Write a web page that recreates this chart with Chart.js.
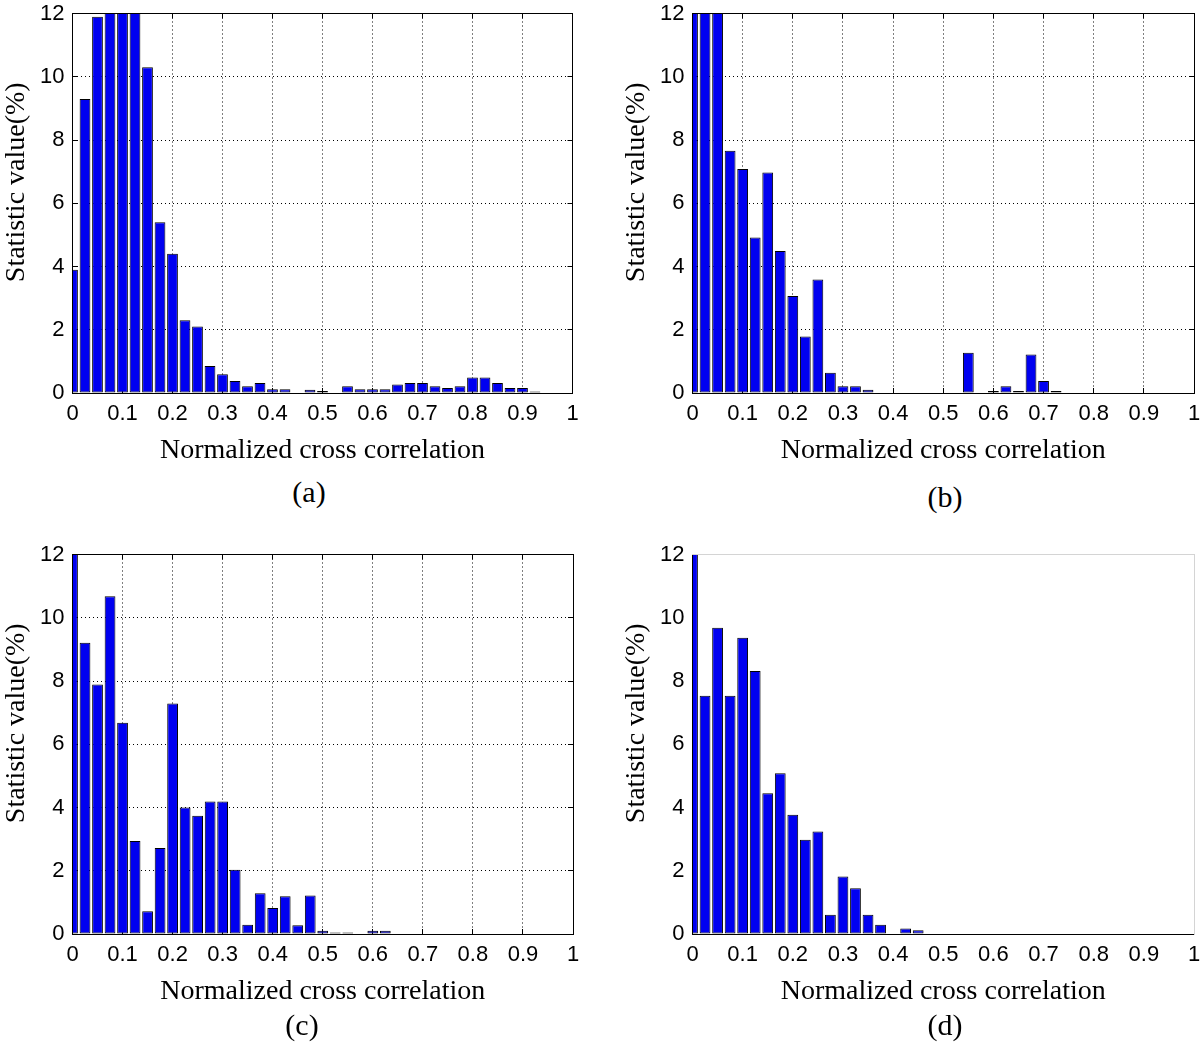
<!DOCTYPE html>
<html>
<head>
<meta charset="utf-8">
<script src="https://cdn.jsdelivr.net/npm/chart.js@4.4.1/dist/chart.umd.min.js"></script>
<style>
  html, body { margin: 0; padding: 0; background: #fff; }
  body { width: 1200px; height: 1047px; position: relative; overflow: hidden; }
  canvas { position: absolute; }
  .panel-label {
    position: absolute;
    font: 30px "Liberation Serif", "Times New Roman", serif;
    color: #000;
    line-height: 1;
    white-space: nowrap;
    transform: translate(-50%, -50%);
  }
</style>
</head>
<body>
<canvas id="chart-a" width="600" height="470" style="left:0;top:0"></canvas>
<canvas id="chart-b" width="580" height="470" style="left:620px;top:0"></canvas>
<canvas id="chart-c" width="600" height="470" style="left:0;top:541px"></canvas>
<canvas id="chart-d" width="580" height="470" style="left:620px;top:541px"></canvas>
<div class="panel-label" style="left:309px;top:492px">(a)</div>
<div class="panel-label" style="left:945px;top:497px">(b)</div>
<div class="panel-label" style="left:302px;top:1025px">(c)</div>
<div class="panel-label" style="left:945px;top:1025px">(d)</div>
<script>
// histogram bin centres (normalized cross correlation)
const binCenters = [
  0, 0.025, 0.05, 0.075, 0.1, 0.125, 0.15, 0.175, 0.2, 0.225,
  0.25, 0.275, 0.3, 0.325, 0.35, 0.375, 0.4, 0.425, 0.45, 0.475,
  0.5, 0.525, 0.55, 0.575, 0.6, 0.625, 0.65, 0.675, 0.7, 0.725,
  0.75, 0.775, 0.8, 0.825, 0.85, 0.875, 0.9, 0.925, 0.95, 0.975, 1,
];

const xTickLabels = ["0", "0.1", "0.2", "0.3", "0.4", "0.5", "0.6", "0.7", "0.8", "0.9", "1"];
const yTickLabels = ["0", "2", "4", "6", "8", "10", "12"];

// statistic value (%) per bin; values above 12 are cut off by the axis
const statsA = [
  3.9, 9.3, 11.9, 12.6, 13.2, 12.4, 10.3, 5.4, 4.4, 2.3,
  2.1, 0.85, 0.59, 0.38, 0.21, 0.32, 0.12, 0.12, 0, 0.1,
  0.06, 0, 0.21, 0.12, 0.12, 0.12, 0.27, 0.32, 0.32, 0.21,
  0.16, 0.21, 0.49, 0.49, 0.32, 0.16, 0.16, 0.05, 0, 0, 0,
];
const statsB = [
  14, 15, 13, 7.66, 7.08, 4.92, 6.97, 4.49, 3.07, 1.79,
  3.59, 0.64, 0.21, 0.21, 0.1, 0, 0, 0, 0, 0,
  0, 0, 1.27, 0, 0.06, 0.21, 0.06, 1.22, 0.38, 0.06,
  0, 0, 0, 0, 0, 0, 0, 0, 0, 0, 0,
];
const statsC = [
  12.2, 9.21, 7.89, 10.68, 6.68, 2.94, 0.72, 2.72, 7.29, 4.0,
  3.74, 4.19, 4.19, 2.03, 0.29, 1.29, 0.82, 1.19, 0.28, 1.22,
  0.1, 0.05, 0.05, 0, 0.1, 0.1, 0, 0, 0, 0,
  0, 0, 0, 0, 0, 0, 0, 0, 0, 0, 0,
];
const statsD = [
  12.6, 7.53, 9.68, 7.53, 9.37, 8.32, 4.45, 5.08, 3.77, 2.98,
  3.24, 0.61, 1.82, 1.45, 0.61, 0.29, 0, 0.17, 0.12, 0,
  0, 0, 0, 0, 0, 0, 0, 0, 0, 0,
  0, 0, 0, 0, 0, 0, 0, 0, 0, 0, 0,
];

const xTitle = "Normalized cross correlation";
const yTitle = "Statistic value(%)";

const tickFont = { family: '"Liberation Sans", Arial, sans-serif', size: 22 };
const titleFont = { family: '"Liberation Serif", "Times New Roman", serif', size: 28 };

function makePanel(canvasId, values, { padRight, showGrid, frameColor }) {
  const gridColor = showGrid ? "#000" : "rgba(0,0,0,0)";
  const mainGrid = {
    offset: false,
    drawOnChartArea: true,
    color: gridColor,
    tickColor: gridColor,
    tickLength: -5,
    tickBorderDash: [],
  };
  const mainBorder = { display: true, color: "#000", width: 1, dash: [1, 3], z: 1 };
  const frameGrid = {
    offset: false,
    drawOnChartArea: false,
    color: gridColor,
    tickLength: -5,
  };
  const frameBorder = { display: true, color: frameColor, width: 1, z: 1 };

  return new Chart(document.getElementById(canvasId), {
    type: "bar",
    data: {
      datasets: [
        {
          data: binCenters.map((x, i) => ({ x, y: values[i] })),
          backgroundColor: "#0000f0",
          borderColor: "#000",
          borderWidth: 1,
          borderSkipped: false,
          barPercentage: 0.86,
          categoryPercentage: 1,
          clip: 0,
        },
      ],
    },
    options: {
      responsive: false,
      animation: false,
      devicePixelRatio: 1,
      layout: { padding: { top: 13.5, left: 0, right: padRight, bottom: 0 } },
      plugins: { legend: { display: false }, tooltip: { enabled: false } },
      scales: {
        x: {
          type: "linear",
          position: "bottom",
          offset: false,
          min: 0,
          max: 1,
          ticks: {
            stepSize: 0.1,
            autoSkip: false,
            maxRotation: 0,
            padding: 13,
            font: tickFont,
            color: "#000",
            callback: (v, i) => xTickLabels[i],
          },
          grid: mainGrid,
          border: mainBorder,
          title: {
            display: true,
            text: xTitle,
            font: titleFont,
            color: "#000",
            padding: { top: 0, bottom: 2.5 },
          },
          afterFit: (s) => {
            s.height = 77;
            s.paddingLeft = 0;
            s.paddingRight = 0;
          },
        },
        y: {
          type: "linear",
          position: "left",
          min: 0,
          max: 12,
          ticks: {
            stepSize: 2,
            padding: 13,
            font: tickFont,
            color: "#000",
            callback: (v, i) => yTickLabels[i],
          },
          grid: mainGrid,
          border: mainBorder,
          title: {
            display: true,
            // leading spaces nudge the label up a little, as in the original figure
            text: "\u00a0\u00a0\u00a0\u00a0\u00a0\u00a0" + yTitle,
            font: titleFont,
            color: "#000",
            padding: 0,
          },
          afterFit: (s) => {
            s.width = 72.5;
            s.paddingTop = 0;
            s.paddingBottom = 0;
          },
        },
        // top and right sides of the box
        x2: {
          type: "linear",
          position: "top",
          offset: false,
          min: 0,
          max: 1,
          ticks: { display: false, stepSize: 0.1 },
          grid: frameGrid,
          border: frameBorder,
          afterFit: (s) => {
            s.height = 0;
            s.paddingLeft = 0;
            s.paddingRight = 0;
          },
        },
        y2: {
          type: "linear",
          position: "right",
          min: 0,
          max: 12,
          ticks: { display: false, stepSize: 2 },
          grid: frameGrid,
          border: frameBorder,
          afterFit: (s) => {
            s.width = 0;
            s.paddingTop = 0;
            s.paddingBottom = 0;
          },
        },
      },
    },
  });
}

makePanel("chart-a", statsA, { padRight: 27.5, showGrid: true, frameColor: "#000" });
makePanel("chart-b", statsB, { padRight: 6, showGrid: true, frameColor: "#000" });
makePanel("chart-c", statsC, { padRight: 27, showGrid: true, frameColor: "#000" });
makePanel("chart-d", statsD, { padRight: 6, showGrid: false, frameColor: "#d4d4d4" });
</script>
</body>
</html>
